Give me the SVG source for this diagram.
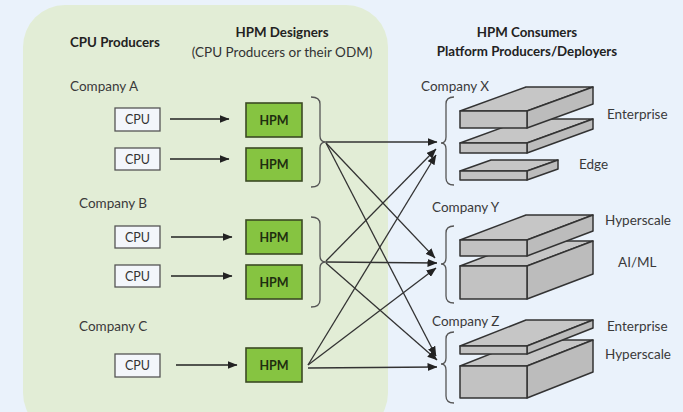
<svg xmlns="http://www.w3.org/2000/svg" width="683" height="412" viewBox="0 0 683 412">
  <defs>
    <marker id="arrow" viewBox="0 0 10 8" refX="9.5" refY="4" markerWidth="10" markerHeight="8" markerUnits="userSpaceOnUse" orient="auto">
      <path d="M0,0 L10,4 L0,8 Z" fill="#222"/>
    </marker>
    <style>
      text { font-family: Lato, "Liberation Sans", sans-serif; fill: #333; }
      .title { font-weight: bold; font-size: 13.3px; fill: #222; }
      .sub { font-size: 13.5px; fill: #333; }
      .co { font-size: 13.5px; fill: #3a3a3a; }
      .lbl { font-size: 13.5px; fill: #3a3a3a; }
      .cpu rect { fill: #f3f6fb; stroke: #555; stroke-width: 1.3; }
      .cpu text { font-size: 12.5px; text-anchor: middle; fill: #333; }
      .hpm rect { fill: #86c441; stroke: #3b4a24; stroke-width: 1.6; }
      .hpm text { font-size: 12.5px; font-weight: bold; text-anchor: middle; fill: #1f2e10; }
      .brace { fill: none; stroke: #555; stroke-width: 1.3; }
      .feed { stroke: #222; stroke-width: 1.3; marker-end: url(#arrow); fill: none; }
      .link { stroke: #333; stroke-width: 1.3; marker-end: url(#arrow); fill: none; }
      .slab polygon, .slab rect { fill: #c2c2c2; stroke: #333; stroke-width: 1.5; stroke-linejoin: round; }
      .slab .top { fill: #c6c6c6; }
      .slab .side { fill: #bcbcbc; }
    </style>
  </defs>

  <!-- background and designer zone -->
  <rect x="0" y="0" width="683" height="412" fill="#eaf2fb"/>
  <rect id="designer-zone" x="23" y="5" width="365" height="430" rx="42" ry="42" fill="#e2edd6"/>

  <!-- column headings -->
  <g id="headings">
    <text class="title" x="70" y="47">CPU Producers</text>
    <text class="title" x="282" y="37" text-anchor="middle">HPM Designers</text>
    <text class="sub" x="282" y="57" text-anchor="middle">(CPU Producers or their ODM)</text>
    <text class="title" x="527" y="37" text-anchor="middle">HPM Consumers</text>
    <text class="title" x="527" y="56" text-anchor="middle">Platform Producers/Deployers</text>
  </g>

  <!-- producer company labels -->
  <text class="co" x="70" y="91">Company A</text>
  <text class="co" x="79" y="208">Company B</text>
  <text class="co" x="79" y="331">Company C</text>

  <!-- CPU nodes -->
  <g id="cpu-a1" class="cpu"><rect x="115" y="108" width="45" height="23"/><text x="137.5" y="124">CPU</text></g>
  <g id="cpu-a2" class="cpu"><rect x="115" y="148" width="45" height="22"/><text x="137.5" y="163.5">CPU</text></g>
  <g id="cpu-b1" class="cpu"><rect x="115" y="226" width="45" height="22"/><text x="137.5" y="241.5">CPU</text></g>
  <g id="cpu-b2" class="cpu"><rect x="115" y="265" width="45" height="22"/><text x="137.5" y="280.5">CPU</text></g>
  <g id="cpu-c" class="cpu"><rect x="115" y="354" width="45" height="23"/><text x="137.5" y="370">CPU</text></g>

  <!-- HPM nodes -->
  <g id="hpm-a1" class="hpm"><rect x="246" y="103" width="56" height="34"/><text x="274" y="124.5">HPM</text></g>
  <g id="hpm-a2" class="hpm"><rect x="246" y="148" width="56" height="33"/><text x="274" y="169">HPM</text></g>
  <g id="hpm-b1" class="hpm"><rect x="246" y="220" width="56" height="34"/><text x="274" y="241.5">HPM</text></g>
  <g id="hpm-b2" class="hpm"><rect x="246" y="265" width="56" height="34"/><text x="274" y="286.5">HPM</text></g>
  <g id="hpm-c" class="hpm"><rect x="246" y="348" width="56" height="34"/><text x="274" y="369.5">HPM</text></g>

  <!-- braces grouping each company's HPMs -->
  <path id="brace-a" class="brace" d="M311,97 Q320,97 320,104 L320,136 Q320,142 326,142 Q320,142 320,148 L320,180 Q320,187 311,187"/>
  <path id="brace-b" class="brace" d="M311,217 Q320,217 320,224 L320,256 Q320,262 326,262 Q320,262 320,268 L320,300 Q320,307 311,307"/>

  <!-- consumer company labels -->
  <text class="co" x="421" y="91">Company X</text>
  <text class="co" x="432" y="212">Company Y</text>
  <text class="co" x="432" y="326">Company Z</text>

  <!-- braces grouping each consumer's platforms -->
  <path id="brace-x" class="brace" d="M454,97 Q446,97 446,104 L446,137 Q446,143 441,143 Q446,143 446,149 L446,178 Q446,185 454,185"/>
  <path id="brace-y" class="brace" d="M454,226 Q446,226 446,233 L446,258 Q446,264 441,264 Q446,264 446,270 L446,296 Q446,303 454,303"/>
  <path id="brace-z" class="brace" d="M454,332 Q446,332 446,339 L446,358 Q446,364 441,364 Q446,364 446,370 L446,396 Q446,403 454,403"/>

  <!-- Company X platforms -->
  <g id="platforms-x" class="slab">
    <!-- edge slab -->
    <polygon class="top" points="460,171 527,171 558,160 491,160"/>
    <polygon class="side" points="527,171 558,160 558,169 527,180"/>
    <rect x="460" y="171" width="67" height="9"/>
    <!-- lower enterprise slab -->
    <polygon class="top" points="460,143 527,143 593,119 526,119"/>
    <polygon class="side" points="527,143 593,119 593,129 527,153"/>
    <rect x="460" y="143" width="67" height="10"/>
    <!-- upper enterprise slab -->
    <polygon class="top" points="460,111 527,111 593,87 526,87"/>
    <polygon class="side" points="527,111 593,87 593,104 527,128"/>
    <rect x="460" y="111" width="67" height="17"/>
  </g>

  <!-- Company Y platforms -->
  <g id="platforms-y" class="slab">
    <polygon class="top" points="460,266 527,266 593,241 526,241"/>
    <polygon class="side" points="527,266 593,241 593,274 527,299"/>
    <rect x="460" y="266" width="67" height="33"/>
    <polygon class="top" points="460,240 527,240 593,215 526,215"/>
    <polygon class="side" points="527,240 593,215 593,231 527,256"/>
    <rect x="460" y="240" width="67" height="16"/>
  </g>

  <!-- Company Z platforms -->
  <g id="platforms-z" class="slab">
    <polygon class="top" points="460,366 527,366 593,340 526,340"/>
    <polygon class="side" points="527,366 593,340 593,372 527,398"/>
    <rect x="460" y="366" width="67" height="32"/>
    <polygon class="top" points="460,346 527,346 593,320 526,320"/>
    <polygon class="side" points="527,346 593,320 593,328 527,354"/>
    <rect x="460" y="346" width="67" height="8"/>
  </g>

  <!-- platform segment labels -->
  <text class="lbl" x="607" y="119">Enterprise</text>
  <text class="lbl" x="579" y="169">Edge</text>
  <text class="lbl" x="605" y="225">Hyperscale</text>
  <text class="lbl" x="618" y="267">AI/ML</text>
  <text class="lbl" x="607" y="331">Enterprise</text>
  <text class="lbl" x="605" y="359">Hyperscale</text>

  <!-- connectors -->
  <g id="connectors">
    <!-- CPU to HPM -->
    <line class="feed" x1="170" y1="119" x2="229" y2="119"/>
    <line class="feed" x1="170" y1="159" x2="229" y2="159"/>
    <line class="feed" x1="171" y1="237" x2="232" y2="237"/>
    <line class="feed" x1="171" y1="276" x2="232" y2="276"/>
    <line class="feed" x1="176" y1="365" x2="237" y2="365"/>
    <!-- Company A HPMs to consumers -->
    <line class="link" x1="326" y1="142" x2="437" y2="142"/>
    <line class="link" x1="326" y1="143" x2="435" y2="258"/>
    <line class="link" x1="326" y1="143" x2="436" y2="356"/>
    <!-- Company B HPMs to consumers -->
    <line class="link" x1="326" y1="261" x2="436" y2="149"/>
    <line class="link" x1="326" y1="262" x2="437" y2="263"/>
    <line class="link" x1="326" y1="263" x2="437" y2="360"/>
    <!-- Company C HPM to consumers -->
    <line class="link" x1="308" y1="365" x2="436" y2="155"/>
    <line class="link" x1="308" y1="365" x2="436" y2="268"/>
    <line class="link" x1="308" y1="368" x2="437" y2="367"/>
  </g>
</svg>
